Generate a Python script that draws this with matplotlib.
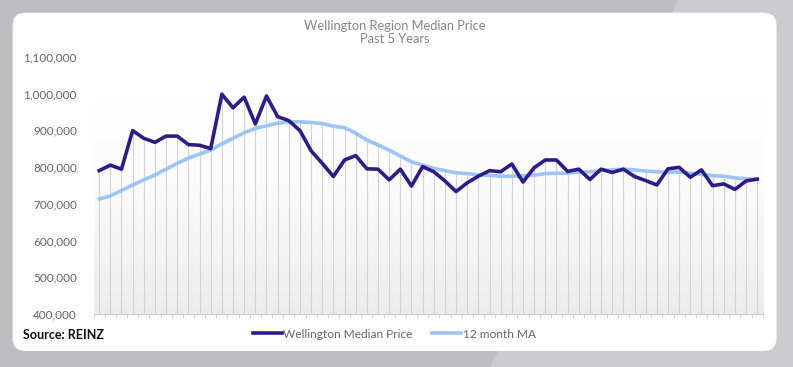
import numpy as np
import matplotlib
matplotlib.use("Agg")
import matplotlib.pyplot as plt
from matplotlib.patches import FancyBboxPatch, Polygon
from matplotlib.lines import Line2D
from matplotlib.ticker import FuncFormatter
from matplotlib.colors import LinearSegmentedColormap

# ---- data (thousands NZD) ----
median_price = [790, 805, 794, 899, 878, 867, 884, 884, 861, 859,
                850, 998, 961, 990, 917, 993, 937, 926, 899, 844,
                810, 774, 819, 831, 795, 794, 765, 794, 748, 801,
                787, 762, 733, 757, 775, 790, 787, 808, 759, 798,
                819, 819, 788, 794, 766, 794, 785, 794, 774, 763,
                751, 795, 799, 772, 792, 749, 754, 739, 762, 767]
ma12 = [713, 721, 736, 751, 765, 778, 794, 810, 824, 835,
        846, 863, 878, 893, 905, 912, 919, 922, 923, 921,
        918, 911, 907, 892, 873, 860, 846, 830, 814, 805,
        796, 790, 784, 782, 778, 777, 775, 775, 776, 778,
        782, 783, 783, 786, 787, 790, 792, 794, 792, 789,
        787, 786, 786, 783, 780, 776, 775, 770, 768, 766]
series_labels = ["Wellington Median Price", "12 month MA"]
title_lines = ["Wellington Region Median Price", "Past 5 Years"]
source_text = "Source: REINZ"
y_ticks = [400000, 500000, 600000, 700000, 800000, 900000, 1000000, 1100000]

price = np.array(median_price) * 1000.0
ma = np.array(ma12) * 1000.0
x = np.arange(len(price))

plt.rcParams['font.family'] = ['Lato', 'DejaVu Sans']

W, H = 7.93, 3.67
fig = plt.figure(figsize=(W, H), dpi=100)
fig.patch.set_facecolor('#bebdc2')

# lighter diagonal band in background
bg = Polygon([(6.78, H), (W, H), (W, 0), (4.90, 0)], closed=True,
             transform=fig.dpi_scale_trans, facecolor='#cccbcf', edgecolor='none', zorder=0)
fig.patches.append(bg)

# white rounded card
card = FancyBboxPatch((0.126, 0.16), 7.765 - 0.126, 3.543 - 0.16,
                      boxstyle="round,pad=0,rounding_size=0.13",
                      transform=fig.dpi_scale_trans, facecolor='white',
                      edgecolor='none', zorder=1)
fig.patches.append(card)

ax = fig.add_axes([93.6 / 793, 1 - 314 / 367, (762.8 - 93.6) / 793, (314 - 56.7) / 367])
ax.set_zorder(5)
ax.set_facecolor('none')
ax.set_xlim(-0.5, len(x) - 0.5)
ax.set_ylim(400000, 1100000)

# gradient fill of plot area
grad = np.linspace(0, 1, 256).reshape(-1, 1)
cmap = LinearSegmentedColormap.from_list('g', ['#ffffff', '#fcfcfc', '#ececec'])
ax.imshow(grad, extent=(-0.5, len(x) - 0.5, 400000, 1100000), aspect='auto',
          cmap=cmap, origin='upper', zorder=0)

# drop lines
top = np.maximum(price, ma)
ax.vlines(x, 400000, top, colors='#d4d4d4', linewidth=0.8, zorder=1)

ax.plot(x, ma, color='#9cc5f2', linewidth=2.6, solid_capstyle='round', zorder=2)
ax.plot(x, price, color='#2e1c85', linewidth=2.6, zorder=3)

for s in ['top', 'right', 'left']:
    ax.spines[s].set_visible(False)
ax.spines['bottom'].set_color('#d0d0d0')
ax.spines['bottom'].set_linewidth(0.8)

ax.set_yticks(y_ticks)
ax.yaxis.set_major_formatter(FuncFormatter(lambda v, p: f"{int(v):,}"))
ax.tick_params(axis='y', length=0, pad=12, labelsize=8.5, labelcolor='#666666')
ax.set_xticks(np.arange(-0.5, len(x), 1.0))
ax.set_xticklabels([])
ax.tick_params(axis='x', length=3, width=0.6, color='#d0d0d0')

fig.text(395 / 793, 1 - 26 / 367, title_lines[0], ha='center', va='center',
         fontsize=9.3, color='#858585')
fig.text(395 / 793, 1 - 39 / 367, title_lines[1], ha='center', va='center',
         fontsize=9.3, color='#858585')

fig.text(23 / 793, 1 - 335 / 367, source_text, ha='left', va='center',
         fontsize=9, fontweight='bold', color='#111111')

handles = [Line2D([], [], color='#2e1c85', linewidth=2.6),
           Line2D([], [], color='#9cc5f2', linewidth=2.6)]
fig.legend(handles, series_labels, loc='center left',
           bbox_to_anchor=(253 / 793, 1 - 334 / 367), ncol=2, frameon=False,
           fontsize=8.6, labelcolor='#666666', handlelength=2.43,
           handletextpad=0.1, columnspacing=1.65, borderpad=0, borderaxespad=0)

fig.savefig('out.png', dpi=100, facecolor=fig.get_facecolor())
